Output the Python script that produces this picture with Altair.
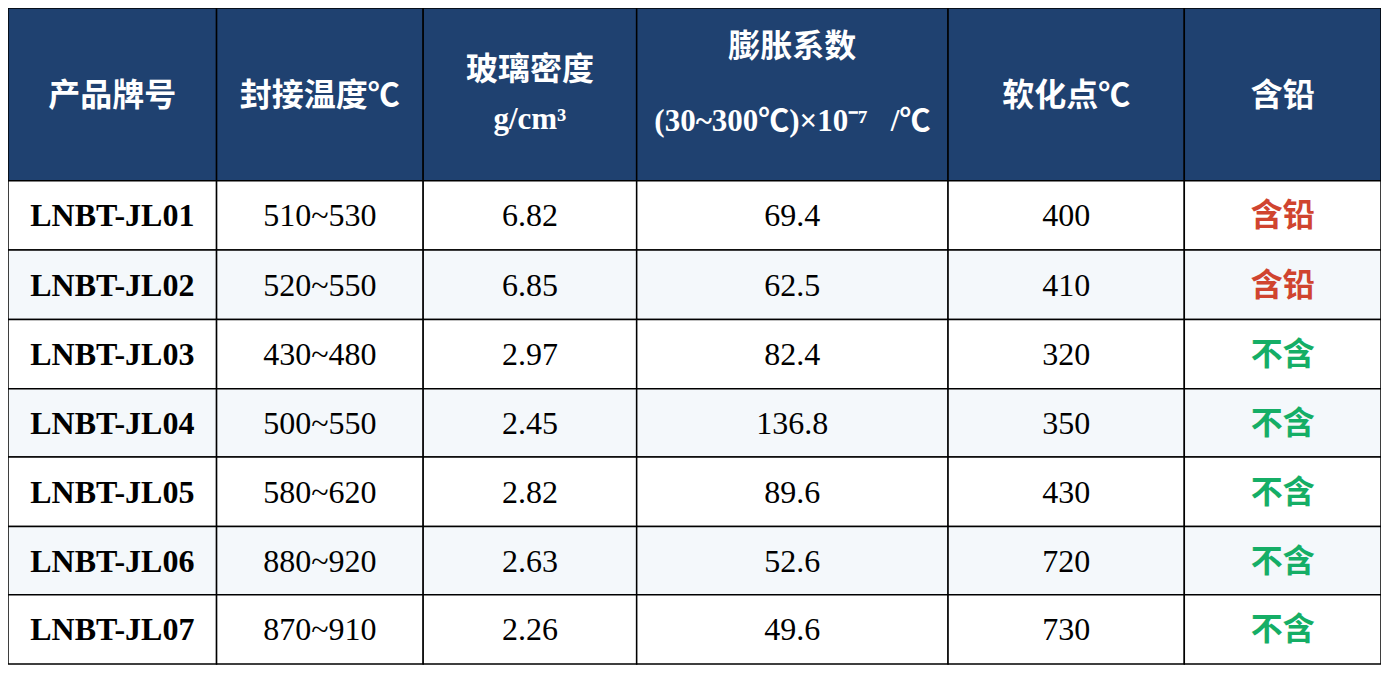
import altair as alt
import pandas as pd

# ---- table content ----
headers = ["产品牌号", "封接温度℃", "玻璃密度", "膨胀系数", "软化点℃", "含铅"]
header_sub = ["", "", "g/cm³", "(30~300℃)×10⁻⁷\u00a0\u00a0\u00a0/℃", "", ""]
products = ["LNBT-JL01", "LNBT-JL02", "LNBT-JL03", "LNBT-JL04", "LNBT-JL05", "LNBT-JL06", "LNBT-JL07"]
seal_temp = ["510~530", "520~550", "430~480", "500~550", "580~620", "880~920", "870~910"]
density = ["6.82", "6.85", "2.97", "2.45", "2.82", "2.63", "2.26"]
expansion = ["69.4", "62.5", "82.4", "136.8", "89.6", "52.6", "49.6"]
softening = ["400", "410", "320", "350", "430", "720", "730"]
lead = ["含铅", "含铅", "不含", "不含", "不含", "不含", "不含"]

# ---- layout (reference pixel grid) ----
REF_W, REF_H = 1389, 674
W, H = 1373, 658
col_edges = [0, 211, 420, 636, 951, 1190, 1389]
row_edges = [0, 177, 248, 319, 390, 460, 531, 601, 672]
# header text line centres
head_single_y = 90
head_two_y = {2: (63, 115), 3: (40, 117)}

HEADER_FILL = "#1F4170"
ALT_FILL = "#F4F8FB"
RED = "#D0442F"
GREEN = "#15AE66"
LATIN = "'Liberation Serif', 'Times New Roman', 'Noto Sans CJK SC'"
CJK = "'Noto Sans CJK SC', 'Liberation Serif'"

columns = [products, seal_temp, density, expansion, softening, lead]
n_rows = len(products)

cells = []
for r in range(n_rows + 1):
    for c in range(len(headers)):
        kind = "header" if r == 0 else ("odd" if r % 2 == 1 else "even")
        cells.append(dict(x0=col_edges[c], x1=col_edges[c + 1],
                          y0=row_edges[r], y1=row_edges[r + 1], kind=kind))
cells = pd.DataFrame(cells)

head_rows = []
for c, h in enumerate(headers):
    xc = (col_edges[c] + col_edges[c + 1]) / 2
    if header_sub[c]:
        y1, y2 = head_two_y[c]
        head_rows.append(dict(x=xc, y=y1, t=h, line="cjk"))
        head_rows.append(dict(x=xc, y=y2, t=header_sub[c], line="latin"))
    else:
        head_rows.append(dict(x=xc, y=head_single_y, t=h, line="cjk"))
head_df = pd.DataFrame(head_rows)

body = []
for r in range(n_rows):
    yc = (row_edges[r + 1] + row_edges[r + 2]) / 2 + 1
    for c, col in enumerate(columns):
        xc = (col_edges[c] + col_edges[c + 1]) / 2
        body.append(dict(x=xc, y=yc, t=col[r], c=c))
body = pd.DataFrame(body)

xs = alt.Scale(domain=[0, REF_W], nice=False, zero=False)
ys = alt.Scale(domain=[0, REF_H], nice=False, zero=False, reverse=True)

rects = alt.Chart(cells).mark_rect(stroke="black", strokeWidth=1.5).encode(
    x=alt.X("x0:Q", scale=xs, axis=None),
    x2="x1:Q",
    y=alt.Y("y0:Q", scale=ys, axis=None),
    y2="y1:Q",
    fill=alt.Fill("kind:N", scale=alt.Scale(domain=["header", "odd", "even"],
                                            range=[HEADER_FILL, "#FFFFFF", ALT_FILL]),
                  legend=None),
)

def txt(df, **kw):
    return alt.Chart(df).mark_text(baseline="middle", align="center", **kw).encode(
        x=alt.X("x:Q", scale=xs, axis=None),
        y=alt.Y("y:Q", scale=ys, axis=None),
        text="t:N",
    )

head_cjk = txt(head_df[head_df.line == "cjk"], font=CJK, fontSize=32,
               fontWeight="bold", color="white")
head_lat = txt(head_df[head_df.line == "latin"], font=LATIN, fontSize=31,
               fontWeight="bold", color="white")
prod_txt = txt(body[body.c == 0], font=LATIN, fontSize=32, fontWeight="bold", color="black")
val_txt = txt(body[(body.c > 0) & (body.c < 5)], font=LATIN, fontSize=32, color="black")
lead_txt = txt(body[body.c == 5], font=CJK, fontSize=32, fontWeight="bold").encode(
    color=alt.Color("t:N", scale=alt.Scale(domain=["含铅", "不含"], range=[RED, GREEN]),
                    legend=None)
)

chart = alt.layer(rects, head_cjk, head_lat, prod_txt, val_txt, lead_txt).properties(
    width=W, height=H,
    autosize=alt.AutoSizeParams(type="none"),
    padding={"left": 0, "top": 0, "right": 0, "bottom": 0},
).configure_view(stroke=None)

chart.save("out.html", embed_options={"renderer": "svg", "actions": False})
